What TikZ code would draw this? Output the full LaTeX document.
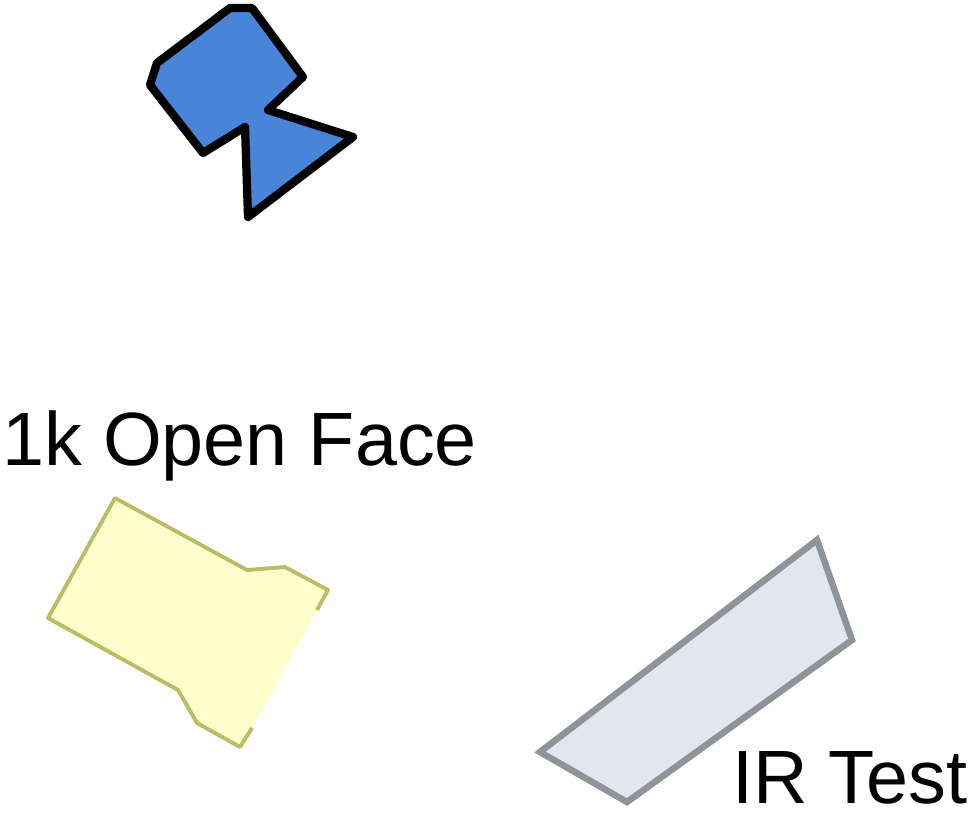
\documentclass[tikz,border=0pt]{standalone}
\usepackage{fontspec}
\setmainfont{Liberation Sans}
\definecolor{camblue}{RGB}{72,132,215}
\definecolor{padfill}{RGB}{255,255,204}
\definecolor{padedge}{RGB}{188,188,100}
\definecolor{irfill}{RGB}{226,231,239}
\definecolor{iredge}{RGB}{142,148,154}

\begin{document}
\begin{tikzpicture}[x=0.02cm,y=-0.02cm,
  every node/.style={font=\fontsize{43}{51}\selectfont,inner sep=0pt},
  camera/.style={draw=black,line width=4.7pt,line join=round,fill=camblue},
  padline/.style={draw=padedge,line width=2.2pt,line join=round},
  irpanel/.style={draw=iredge,line width=3.7pt,line join=miter,fill=irfill}]
  \useasboundingbox (0,0) rectangle (980,814);
  \draw[camera] (230,8) -- (252,8) -- (303,77) -- (268,110) -- (353,137)
    -- (248,217) -- (245,127) -- (203,153) -- (150,85) -- (157,63) -- cycle;
  \node[anchor=base west] (openface) at (2,465) {1k Open Face};
  \fill[padfill] (115,498) -- (247,570) -- (285,567) -- (328,590) -- (317,610)
    -- (252,728) -- (240,747) -- (197,723) -- (178,690) -- (48,618) -- cycle;
  \draw[padline] (317,610) -- (328,590) -- (285,567) -- (247,570) -- (115,498)
    -- (48,618) -- (178,690) -- (197,723) -- (240,747) -- (252,728);
  \draw[irpanel] (817,540) -- (852,640) -- (627,802) -- (540,752) -- cycle;
  \node[anchor=base west] (irtest) at (732,803) {IR Test};
\end{tikzpicture}
\end{document}
